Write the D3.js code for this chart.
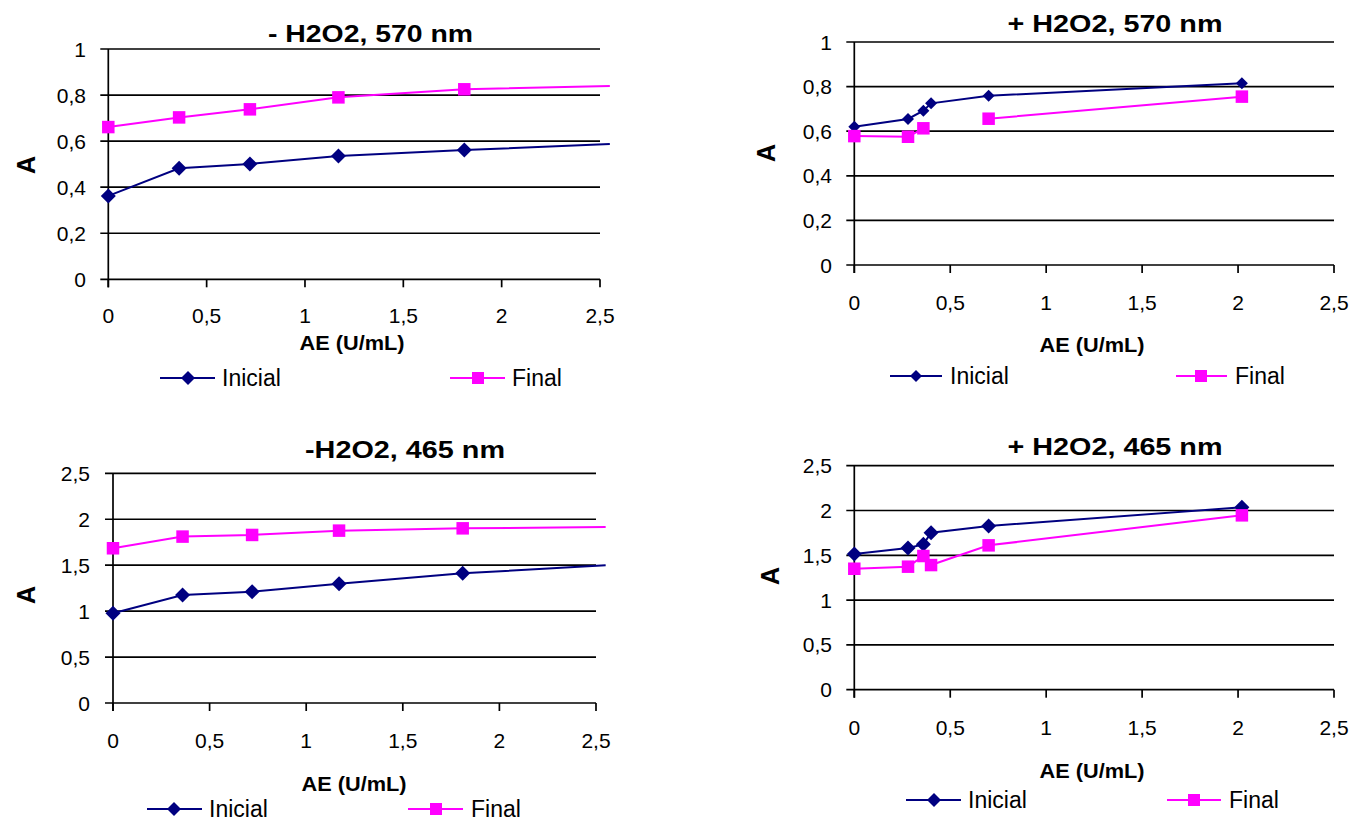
<!DOCTYPE html>
<html><head><meta charset="utf-8">
<script src="https://cdn.jsdelivr.net/npm/d3@7"></script>
<style>
body{margin:0;background:#fff}
svg{display:block}
text{font-family:"Liberation Sans",Arial,sans-serif;fill:#000}
</style>
</head><body>
<svg id="chart" width="1355" height="822"></svg>
<script>
// ---------- data ----------
const seriesNames = ["Inicial", "Final"];
const titles = ["- H2O2, 570 nm", "+ H2O2, 570 nm", "-H2O2, 465 nm", "+ H2O2, 465 nm"];
const xAxisTitle = "AE (U/mL)";
const yAxisTitle = "A";
const xTicks = [0, 0.5, 1, 1.5, 2, 2.5];
const yTicks570 = [0, 0.2, 0.4, 0.6, 0.8, 1];
const yTicks465 = [0, 0.5, 1, 1.5, 2, 2.5];

// AE concentrations (U/mL)
const aeMinus = [0, 0.36, 0.72, 1.17, 1.81];
const aePlus = [0, 0.28, 0.36, 0.40, 0.70, 2.02];
const trendX = 2.55; // forward extension of trend lines

// - H2O2, 570 nm
const iniMinus570 = [0.362, 0.482, 0.501, 0.535, 0.561];
const finMinus570 = [0.661, 0.703, 0.738, 0.790, 0.825];
const trendMinus570 = [0.588, 0.839];
// + H2O2, 570 nm
const iniPlus570 = [0.620, 0.655, 0.692, 0.725, 0.759, 0.815];
const finPlus570 = [0.578, 0.575, 0.613, null, 0.656, 0.755];
// - H2O2, 465 nm
const iniMinus465 = [0.976, 1.176, 1.212, 1.299, 1.411];
const finMinus465 = [1.684, 1.811, 1.829, 1.876, 1.901];
const trendMinus465 = [1.499, 1.916];
// + H2O2, 465 nm
const iniPlus465 = [1.514, 1.581, 1.622, 1.752, 1.827, 2.035];
const finPlus465 = [1.350, 1.373, 1.492, 1.391, 1.611, 1.946];

// ---------- styles / layout ----------
const colors = ["#000080", "#FF00FF"];
const fmt = v => d3.format("~g")(v).replace(".", ",");

const panels = [
  {title: titles[0], xs: aeMinus, ini: iniMinus570, fin: finMinus570, trend: trendMinus570, yTicks: yTicks570,
   L:108.3, R:600, T:49, B:279.3, tX:370.5, tY:41.7, tW:205, xLabY:323, yLabR:86, axX:352, axY:350, axW:105,
   legY:378, leg:[160,215,188,222, 450,505,478,512], aX:26, aY:165, dSize:15, lSize:14},
  {title: titles[1], xs: aePlus, ini: iniPlus570, fin: finPlus570, trend: null, yTicks: yTicks570,
   L:854.3, R:1334, T:42, B:265, tX:1115, tY:31.7, tW:215, xLabY:310, yLabR:832, axX:1092, axY:352, axW:105,
   legY:376, leg:[890,942,916,950, 1176,1227,1201,1235], aX:766, aY:153, dSize:12, lSize:12},
  {title: titles[2], xs: aeMinus, ini: iniMinus465, fin: finMinus465, trend: trendMinus465, yTicks: yTicks465,
   L:113, R:596, T:473.3, B:703, tX:405, tY:458.3, tW:200, xLabY:748, yLabR:90, axX:354, axY:790.5, axW:105,
   legY:809, leg:[147,202,174,209, 408,463,436,471], aX:26, aY:595, dSize:15, lSize:14},
  {title: titles[3], xs: aePlus, ini: iniPlus465, fin: finPlus465, trend: null, yTicks: yTicks465,
   L:854.3, R:1334, T:465.7, B:689.7, tX:1115, tY:455, tW:215, xLabY:735, yLabR:832, axX:1092, axY:778, axW:105,
   legY:800, leg:[906,961,934,968, 1167,1221,1194,1229], aX:770, aY:576, dSize:15, lSize:14}
];

const svg = d3.select("#chart");

function diamondPath(d){ // square rotated 45deg, diagonal d
  const side = d / Math.SQRT2;
  return d3.symbol().type(d3.symbolSquare).size(side*side)();
}
function squarePath(s){ return d3.symbol().type(d3.symbolSquare).size(s*s)(); }

panels.forEach(p => {
  const g = svg.append("g");
  const yMax = d3.max(p.yTicks);
  const x = d3.scaleLinear().domain([0, 2.5]).range([p.L, p.R]);
  const y = d3.scaleLinear().domain([0, yMax]).range([p.B, p.T]);

  // gridlines (with left tick stubs)
  g.append("g").selectAll("line").data(p.yTicks).join("line")
    .attr("x1", p.L - 8).attr("x2", p.R)
    .attr("y1", d => y(d)).attr("y2", d => y(d))
    .attr("stroke", "#000").attr("stroke-width", 1.7);

  // y axis line
  g.append("line").attr("x1", p.L).attr("x2", p.L).attr("y1", y(yMax)).attr("y2", p.B + 8)
    .attr("stroke", "#000").attr("stroke-width", 1.7);
  // x ticks
  g.append("g").selectAll("line").data(xTicks).join("line")
    .attr("x1", d => x(d)).attr("x2", d => x(d)).attr("y1", p.B).attr("y2", p.B + 8)
    .attr("stroke", "#000").attr("stroke-width", 1.7);

  // tick labels
  g.append("g").selectAll("text").data(xTicks).join("text")
    .attr("x", d => x(d)).attr("y", p.xLabY).attr("text-anchor", "middle")
    .style("font-size", "21px").text(fmt);
  g.append("g").selectAll("text").data(p.yTicks).join("text")
    .attr("x", p.yLabR).attr("y", d => y(d)).attr("dy", "0.36em").attr("text-anchor", "end")
    .style("font-size", "21px").text(fmt);

  // title
  g.append("text").attr("x", p.tX).attr("y", p.tY).attr("text-anchor", "middle")
    .style("font-size", "24px").style("font-weight", "bold")
    .attr("textLength", p.tW).attr("lengthAdjust", "spacingAndGlyphs").text(p.title);
  // axis titles
  g.append("text").attr("x", p.axX).attr("y", p.axY).attr("text-anchor", "middle")
    .style("font-size", "20px").style("font-weight", "bold")
    .attr("textLength", p.axW).attr("lengthAdjust", "spacingAndGlyphs").text(xAxisTitle);
  g.append("text").attr("transform", `translate(${p.aX},${p.aY}) rotate(-90)`)
    .attr("text-anchor", "middle").attr("dy", "0.36em")
    .style("font-size", "25px").style("font-weight", "bold").text(yAxisTitle);

  // series
  const seriesData = [p.ini, p.fin];
  seriesData.forEach((vals, si) => {
    let pts = p.xs.map((xv, i) => ({x: xv, y: vals[i]}));
    let linePts = pts.slice();
    if (p.trend) linePts.push({x: trendX, y: p.trend[si]});
    const line = d3.line().defined(d => d.y != null).x(d => x(d.x)).y(d => y(d.y));
    g.append("path").attr("d", line(linePts)).attr("fill", "none")
      .attr("stroke", colors[si]).attr("stroke-width", 2);
    const mk = si === 0 ? diamondPath(p.dSize) : squarePath(12.5);
    g.append("g").selectAll("path").data(pts.filter(d => d.y != null)).join("path")
      .attr("d", mk)
      .attr("transform", d => `translate(${x(d.x)},${y(d.y)})` + (si === 0 ? " rotate(45)" : ""))
      .attr("fill", colors[si]);
  });

  // legend
  seriesNames.forEach((name, si) => {
    const o = si * 4;
    const [x1, x2, mx, tx] = p.leg.slice(o, o + 4);
    g.append("line").attr("x1", x1).attr("x2", x2).attr("y1", p.legY).attr("y2", p.legY)
      .attr("stroke", colors[si]).attr("stroke-width", 2);
    g.append("path").attr("d", si === 0 ? diamondPath(p.lSize) : squarePath(12))
      .attr("transform", `translate(${mx},${p.legY})` + (si === 0 ? " rotate(45)" : ""))
      .attr("fill", colors[si]);
    g.append("text").attr("x", tx).attr("y", p.legY).attr("dy", "0.36em")
      .style("font-size", "23px").text(name);
  });
});
</script>
</body></html>
